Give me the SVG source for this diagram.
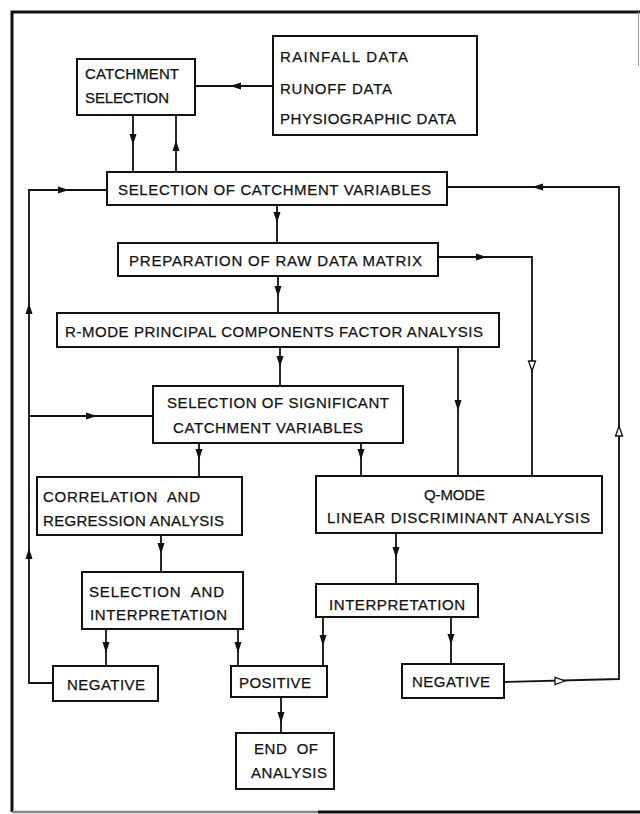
<svg xmlns="http://www.w3.org/2000/svg" xmlns:xlink="http://www.w3.org/1999/xlink" width="640" height="814" viewBox="0 0 640 814">
<style>
.box{fill:#fff;stroke:#111;stroke-width:2}
.ln{fill:none;stroke:#111;stroke-width:1.8}
.frame{fill:none;stroke:#111;stroke-width:3}
text{font-family:"Liberation Sans",Arial,sans-serif;font-size:15px;fill:#111;stroke:#111;stroke-width:0.25;white-space:pre}
</style>
<defs>
<polygon id="ahf" points="0,0 -3.5,-11 3.5,-11" fill="#111"/>
<polygon id="aho" points="0,0 -3.5,-10 3.5,-10" fill="#fff" stroke="#111" stroke-width="1.3"/>
</defs>
<rect width="640" height="814" fill="#fff"/>
<g id="frame">
<path class="frame" d="M12,812 V12 H640"/>
<path d="M12,812 H318" stroke="#888" stroke-width="2.5" fill="none"/>
<path d="M318,812 H640" stroke="#111" stroke-width="3" fill="none"/>
<path d="M638.5,12 V66" stroke="#999" stroke-width="1" fill="none"/>
</g>
<g id="connectors">
<path class="ln" d="M273,86 H195"/><use xlink:href="#ahf" transform="translate(230,86) rotate(90)"/>
<path class="ln" d="M133,115 V172"/><use xlink:href="#ahf" transform="translate(133,145)"/>
<path class="ln" d="M176,172 V115"/><use xlink:href="#ahf" transform="translate(176,140) rotate(180)"/>
<path class="ln" d="M53,683 H29 V190 H107"/>
<use xlink:href="#ahf" transform="translate(29,303) rotate(180)"/>
<use xlink:href="#ahf" transform="translate(29,548) rotate(180)"/>
<use xlink:href="#ahf" transform="translate(69,190) rotate(-90)"/>
<path class="ln" d="M29,416 H153"/><use xlink:href="#ahf" transform="translate(97,416) rotate(-90)"/>
<path class="ln" d="M277,205 V243"/><use xlink:href="#ahf" transform="translate(277,223)"/>
<path class="ln" d="M504,682 L619,679 V187 H447"/>
<use xlink:href="#aho" transform="translate(565,681) rotate(-90)"/>
<use xlink:href="#aho" transform="translate(619,426) rotate(180)"/>
<use xlink:href="#ahf" transform="translate(532,187) rotate(90)"/>
<path class="ln" d="M438,257 H532 V476"/>
<use xlink:href="#ahf" transform="translate(487,257) rotate(-90)"/>
<use xlink:href="#aho" transform="translate(532,371)"/>
<path class="ln" d="M278,276 V313"/><use xlink:href="#ahf" transform="translate(278,297)"/>
<path class="ln" d="M280,347 V386"/><use xlink:href="#ahf" transform="translate(280,367)"/>
<path class="ln" d="M458,347 V476"/><use xlink:href="#ahf" transform="translate(458,411)"/>
<path class="ln" d="M199,443 V477"/><use xlink:href="#ahf" transform="translate(199,460)"/>
<path class="ln" d="M361,443 V476"/><use xlink:href="#ahf" transform="translate(361,460)"/>
<path class="ln" d="M161,535 V572"/><use xlink:href="#ahf" transform="translate(161,554)"/>
<path class="ln" d="M396,533 V584"/><use xlink:href="#ahf" transform="translate(396,558)"/>
<path class="ln" d="M106,629 V666"/><use xlink:href="#ahf" transform="translate(106,653)"/>
<path class="ln" d="M238,629 V666"/><use xlink:href="#ahf" transform="translate(238,653)"/>
<path class="ln" d="M323,617 V666"/><use xlink:href="#ahf" transform="translate(323,646)"/>
<path class="ln" d="M451,617 V664"/><use xlink:href="#ahf" transform="translate(451,645)"/>
<path class="ln" d="M281,697 V733"/><use xlink:href="#ahf" transform="translate(281,723)"/>
</g>
<g id="catchment-selection">
<rect class="box" x="77" y="59" width="118" height="56"/>
<text x="85" y="79" textLength="94" lengthAdjust="spacing">CATCHMENT</text>
<text x="85" y="103" textLength="84" lengthAdjust="spacing">SELECTION</text>
</g>
<g id="data">
<rect class="box" x="273" y="36" width="204" height="99"/>
<text x="280" y="62" textLength="128" lengthAdjust="spacing">RAINFALL DATA</text>
<text x="280" y="94" textLength="112" lengthAdjust="spacing">RUNOFF DATA</text>
<text x="280" y="124" textLength="176" lengthAdjust="spacing">PHYSIOGRAPHIC DATA</text>
</g>
<g id="selection-variables">
<rect class="box" x="107" y="172" width="340" height="33"/>
<text x="118" y="195" textLength="313" lengthAdjust="spacing">SELECTION OF CATCHMENT VARIABLES</text>
</g>
<g id="raw-data">
<rect class="box" x="118" y="243" width="320" height="33"/>
<text x="129" y="266" textLength="293" lengthAdjust="spacing">PREPARATION OF RAW DATA MATRIX</text>
</g>
<g id="r-mode">
<rect class="box" x="57" y="313" width="442" height="34"/>
<text x="65" y="337" textLength="418" lengthAdjust="spacing">R-MODE PRINCIPAL COMPONENTS FACTOR ANALYSIS</text>
</g>
<g id="significant">
<rect class="box" x="153" y="386" width="250" height="57"/>
<text x="167" y="408" textLength="222" lengthAdjust="spacing">SELECTION OF SIGNIFICANT</text>
<text x="173" y="433" textLength="190" lengthAdjust="spacing">CATCHMENT VARIABLES</text>
</g>
<g id="correlation">
<rect class="box" x="37" y="477" width="205" height="58"/>
<text x="43" y="502" textLength="157" lengthAdjust="spacing">CORRELATION  AND</text>
<text x="43" y="526" textLength="181" lengthAdjust="spacing">REGRESSION ANALYSIS</text>
</g>
<g id="q-mode">
<rect class="box" x="316" y="476" width="286" height="57"/>
<text x="424" y="500" textLength="61" lengthAdjust="spacing">Q-MODE</text>
<text x="327" y="523" textLength="263" lengthAdjust="spacing">LINEAR DISCRIMINANT ANALYSIS</text>
</g>
<g id="selection-interpretation">
<rect class="box" x="82" y="572" width="161" height="57"/>
<text x="89" y="597" textLength="135" lengthAdjust="spacing">SELECTION  AND</text>
<text x="90" y="620" textLength="137" lengthAdjust="spacing">INTERPRETATION</text>
</g>
<g id="interpretation">
<rect class="box" x="316" y="584" width="162" height="33"/>
<text x="329" y="610" textLength="136" lengthAdjust="spacing">INTERPRETATION</text>
</g>
<g id="negative-left">
<rect class="box" x="53" y="666" width="105" height="35"/>
<text x="67" y="690" textLength="78" lengthAdjust="spacing">NEGATIVE</text>
</g>
<g id="positive">
<rect class="box" x="231" y="666" width="96" height="31"/>
<text x="239" y="688" textLength="72" lengthAdjust="spacing">POSITIVE</text>
</g>
<g id="negative-right">
<rect class="box" x="402" y="664" width="102" height="34"/>
<text x="412" y="687" textLength="78" lengthAdjust="spacing">NEGATIVE</text>
</g>
<g id="end">
<rect class="box" x="236" y="733" width="98" height="56"/>
<text x="254" y="754" textLength="64" lengthAdjust="spacing">END  OF</text>
<text x="251" y="778" textLength="76" lengthAdjust="spacing">ANALYSIS</text>
</g>
</svg>
